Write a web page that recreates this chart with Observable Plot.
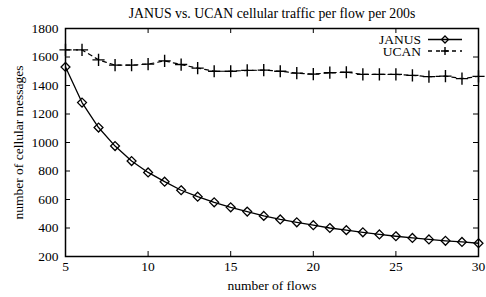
<!DOCTYPE html>
<html><head><meta charset="utf-8">
<script src="https://cdn.jsdelivr.net/npm/d3@7"></script>
<script src="https://cdn.jsdelivr.net/npm/@observablehq/plot@0.6"></script>
<style>body{margin:0;background:#fff}</style>
</head><body><div id="chart"></div>
<script>
const flows = [5,6,7,8,9,10,11,12,13,14,15,16,17,18,19,20,21,22,23,24,25,26,27,28,29,30];
const janus = [1530,1280,1105,975,870,790,725,665,620,580,545,515,485,460,440,420,400,385,370,355,342,330,320,310,302,293];
const ucan  = [1650,1650,1580,1543,1543,1550,1573,1547,1522,1500,1500,1506,1508,1500,1487,1480,1490,1493,1478,1478,1478,1471,1462,1466,1448,1464];
const xTicks = [5,10,15,20,25,30];
const yTicks = [200,400,600,800,1000,1200,1400,1600,1800];
const innerX = [10,15,20,25];
const innerY = [400,600,800,1000,1200,1400,1600];
const title = "JANUS vs. UCAN cellular traffic per flow per 200s";

const FONT = "Liberation Serif, DejaVu Serif, serif";
const J = flows.map((f,i)=>({f, v: janus[i]}));
const U = flows.map((f,i)=>({f, v: ucan[i]}));
const W = 486, H = 297, mL = 65, mR = 8, mT = 28, mB = 41;
const fh = H - mT - mB, fw = W - mL - mR;
const T = 5;

const plot = Plot.plot({
  width: W, height: H,
  marginLeft: mL, marginRight: mR, marginTop: mT, marginBottom: mB,
  style: {fontFamily: FONT, fontSize: "13.5px", background: "#fff", color: "#000"},
  x: {domain: [5,30]},
  y: {domain: [200,1800]},
  marks: [
    Plot.axisX({ticks: xTicks, tickSize: 0, tickPadding: 5, tickFormat: "d", fontSize: 13.5, label: "number of flows", labelAnchor: "center", labelArrow: "none", labelOffset: 33}),
    Plot.axisY({ticks: yTicks, tickSize: 0, tickPadding: 7, tickFormat: "d", fontSize: 13.5, label: "number of cellular messages", labelAnchor: "center", labelArrow: "none", labelOffset: 52}),
    Plot.ruleX(innerX, {insetTop: fh - T, stroke: "#000", strokeWidth: 1}),
    Plot.ruleX(innerX, {insetBottom: fh - T, stroke: "#000", strokeWidth: 1}),
    Plot.ruleY(innerY, {insetRight: fw - T, stroke: "#000", strokeWidth: 1}),
    Plot.ruleY(innerY, {insetLeft: fw - T, stroke: "#000", strokeWidth: 1}),
    Plot.line(U, {x: "f", y: "v", stroke: "#000", strokeWidth: 1.2, strokeDasharray: "4,4"}),
    Plot.dot(U, {x: "f", y: "v", symbol: "plus", r: 4, stroke: "#000", strokeWidth: 1.4}),
    Plot.line(J, {x: "f", y: "v", stroke: "#000", strokeWidth: 1.3}),
    Plot.dot(J, {x: "f", y: "v", symbol: "diamond2", r: 4, stroke: "#000", strokeWidth: 1.3, fill: "none"}),
    Plot.frame({stroke: "#000", strokeWidth: 1.5}),
    Plot.text([title], {text: d => d, frameAnchor: "top", dy: -20, fontSize: 13.8})
  ]
});
document.getElementById("chart").appendChild(plot);

// legend (gnuplot-style key, top right inside the frame)
const svg = d3.select(plot);
const ns = svg.append("g").attr("font-size", 13.5).attr("fill", "#000");
const keys = [
  {label: "JANUS", dash: null, sym: "diamond"},
  {label: "UCAN", dash: "4,4", sym: "plus"}
];
keys.forEach((k, i) => {
  const cy = 39.5 + i * 11.5;
  ns.append("text").attr("x", 421).attr("y", cy).attr("dy", "0.35em").attr("text-anchor", "end").text(k.label);
  ns.append("line").attr("x1", 428).attr("x2", 462).attr("y1", cy).attr("y2", cy)
    .attr("stroke", "#000").attr("stroke-width", 1.3).attr("stroke-dasharray", k.dash);
  const cx = 445;
  if (k.sym === "diamond") {
    ns.append("path").attr("d", `M${cx},${cy-3.5}L${cx+3.5},${cy}L${cx},${cy+3.5}L${cx-3.5},${cy}Z`)
      .attr("fill", "none").attr("stroke", "#000").attr("stroke-width", 1.3);
  } else {
    ns.append("path").attr("d", `M${cx-4},${cy}H${cx+4}M${cx},${cy-4}V${cy+4}`)
      .attr("stroke", "#000").attr("stroke-width", 1.4);
  }
});
svg.selectAll("text").style("font-family", FONT);
</script></body></html>
